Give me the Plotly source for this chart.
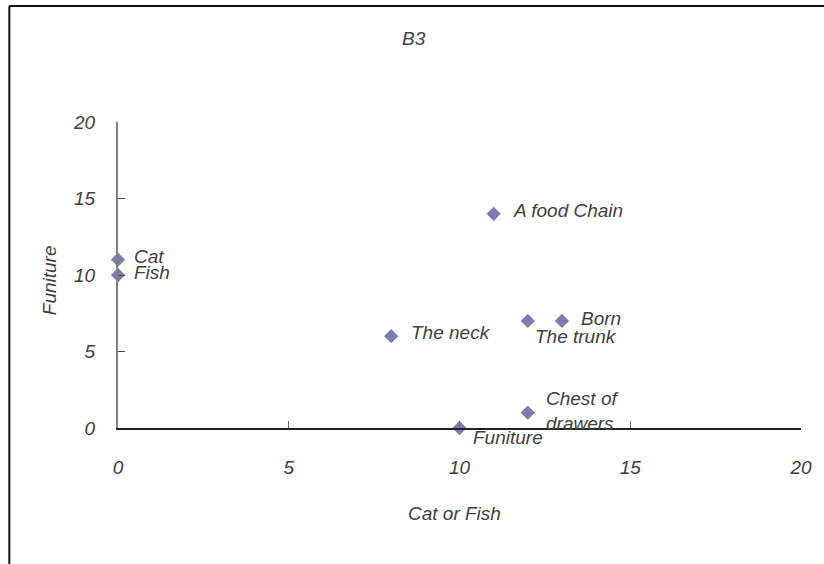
import plotly.graph_objects as go

labels = ["Cat", "Fish", "A food Chain", "The neck", "The trunk", "Born", "Chest of<br>drawers", "Funiture"]
x_vals = [0, 0, 11, 8, 12, 13, 12, 10]
y_vals = [11, 10, 14, 6, 7, 7, 1, 0]
x_ticks = [0, 5, 10, 15, 20]
y_ticks = [0, 5, 10, 15, 20]

# label offsets in pixels (x shift, y shift) relative to each point
label_dx = [14, 14, 17, 18, 5, 17, 16, 11]
label_dy = [3, 3, 3, 4, -16, 2, 2, -9]

FONT = "Liberation Sans, Arial, sans-serif"
TXT = "#404040"
FS = 19

W, H = 824, 564
L, R, T, B = 118, 21, 122, 136
pw, ph = W - L - R, H - T - B

fig = go.Figure()
fig.add_trace(go.Scatter(
    x=x_vals, y=y_vals, mode="markers",
    marker=dict(symbol="diamond", size=11, color="#7B7DB0"),
    cliponaxis=False, showlegend=False, hoverinfo="skip",
))

def px_x(p):
    return (p - L) / pw

def px_y(p):
    return 1 - (p - T) / ph

annotations = []
for lab, xv, yv, dx, dy in zip(labels, x_vals, y_vals, label_dx, label_dy):
    annotations.append(dict(
        text=lab, x=xv, y=yv, xref="x", yref="y", showarrow=False,
        xanchor="left", yanchor="middle", align="left", xshift=dx, yshift=dy,
        font=dict(family=FONT, size=FS, color=TXT, style="italic"),
    ))

annotations += [
    dict(text="B3", xref="paper", yref="paper", x=px_x(415), y=px_y(38), showarrow=False,
         xanchor="center", yanchor="middle", font=dict(size=FS, style="italic", color=TXT)),
    dict(text="Cat or Fish", xref="paper", yref="paper", x=px_x(455), y=px_y(513), showarrow=False,
         xanchor="center", yanchor="middle", font=dict(size=FS, style="italic", color=TXT)),
    dict(text="Funiture", xref="paper", yref="paper", x=px_x(49), y=px_y(280), showarrow=False,
         xanchor="center", yanchor="middle", textangle=-90,
         font=dict(size=FS, style="italic", color=TXT)),
]

fig.update_layout(
    width=W, height=H,
    margin=dict(l=L, r=R, t=T, b=B),
    paper_bgcolor="white", plot_bgcolor="white",
    font=dict(family=FONT, size=FS, color=TXT, style="italic"),
    xaxis=dict(range=[0, 20], tickvals=x_ticks, showgrid=False, zeroline=False,
               showline=True, linecolor="#222222", linewidth=1.5,
               ticks="inside", ticklen=7, tickcolor="#666666", tickwidth=1,
               ticklabelstandoff=21, tickfont=dict(size=FS, style="italic")),
    yaxis=dict(range=[0, 20], tickvals=y_ticks, showgrid=False, zeroline=False,
               showline=True, linecolor="#808080", linewidth=2,
               ticks="inside", ticklen=7, tickcolor="#444444", tickwidth=1,
               ticklabelstandoff=17, tickfont=dict(size=FS, style="italic")),
    shapes=[
        dict(type="line", xref="paper", yref="paper", x0=px_x(9), x1=px_x(830), y0=px_y(6), y1=px_y(6),
             line=dict(color="#111111", width=2)),
        dict(type="line", xref="paper", yref="paper", x0=px_x(9), x1=px_x(9), y0=px_y(6), y1=px_y(570),
             line=dict(color="#111111", width=2)),
    ],
    annotations=annotations,
)

fig.write_html("out.html", config={"displayModeBar": False},
               post_script="document.body.style.margin='0';")
